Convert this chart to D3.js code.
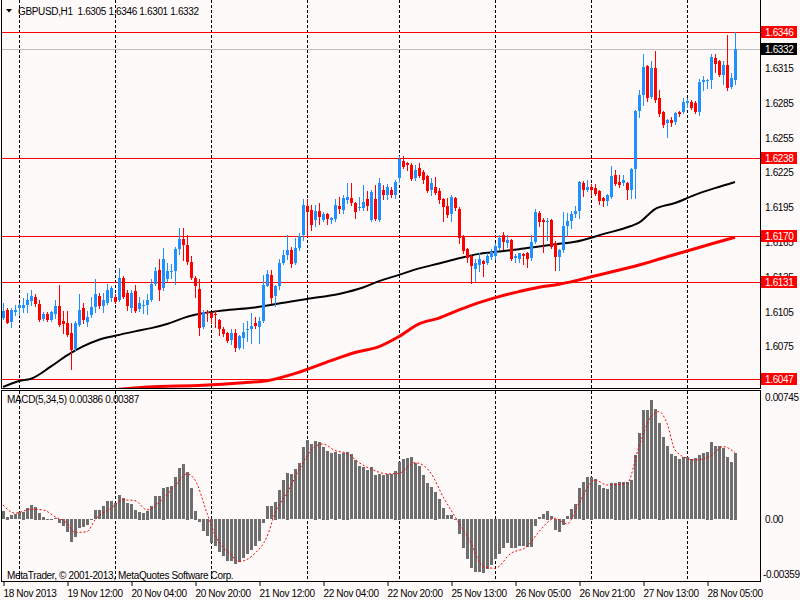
<!DOCTYPE html>
<html>
<head>
<meta charset="utf-8">
<script src="https://cdn.jsdelivr.net/npm/d3@7"></script>
<style>
  html, body { margin: 0; padding: 0; background: #fffafa; }
  svg { display: block; font-family: "Liberation Sans", Arial, sans-serif; }
  .tx { font-size: 10px; fill: #000; letter-spacing: -0.35px; }
</style>
</head>
<body>
<script>
// GBPUSD H1, 184 candles
var opens = [1.6100,1.6107,1.6097,1.6105,1.6108,1.6108,1.6111,1.6115,1.6118,1.6112,1.6099,1.6103,1.6098,1.6103,1.6110,1.6097,1.6095,1.6087,1.6073,1.6094,
1.6108,1.6097,1.6102,1.6109,1.6119,1.6110,1.6113,1.6117,1.6118,1.6115,1.6134,1.6121,1.6108,1.6123,1.6108,1.6110,1.6111,1.6115,1.6129,1.6141,
1.6126,1.6133,1.6139,1.6140,1.6159,1.6168,1.6163,1.6148,1.6134,1.6125,1.6092,1.6105,1.6104,1.6103,1.6098,1.6090,1.6087,1.6081,1.6087,1.6074,
1.6083,1.6089,1.6090,1.6095,1.6092,1.6097,1.6128,1.6137,1.6118,1.6127,1.6147,1.6154,1.6158,1.6147,1.6160,1.6171,1.6196,1.6193,1.6184,1.6192,
1.6184,1.6189,1.6184,1.6185,1.6196,1.6193,1.6201,1.6203,1.6199,1.6194,1.6195,1.6202,1.6184,1.6202,1.6184,1.6210,1.6206,1.6210,1.6206,1.6221,
1.6235,1.6233,1.6232,1.6220,1.6229,1.6226,1.6222,1.6210,1.6213,1.6209,1.6202,1.6196,1.6189,1.6203,1.6194,1.6170,1.6159,1.6153,1.6142,1.6146,
1.6149,1.6147,1.6153,1.6153,1.6160,1.6171,1.6164,1.6167,1.6151,1.6151,1.6155,1.6156,1.6151,1.6165,1.6190,1.6184,1.6182,1.6184,1.6164,1.6152,
1.6158,1.6179,1.6183,1.6189,1.6192,1.6216,1.6210,1.6213,1.6212,1.6209,1.6203,1.6201,1.6204,1.6223,1.6217,1.6216,1.6216,1.6210,1.6228,1.6278,
1.6292,1.6317,1.6290,1.6315,1.6289,1.6277,1.6267,1.6270,1.6268,1.6277,1.6277,1.6285,1.6286,1.6285,1.6277,1.6303,1.6304,1.6305,1.6324,1.6321,
1.6309,1.6318,1.6299,1.6305];
var highs = [1.6113,1.6108,1.6108,1.6111,1.6113,1.6117,1.6121,1.6124,1.6120,1.6115,1.6105,1.6105,1.6106,1.6115,1.6128,1.6106,1.6106,1.6095,1.6097,1.6120,
1.6113,1.6106,1.6118,1.6133,1.6121,1.6121,1.6129,1.6127,1.6120,1.6143,1.6136,1.6124,1.6124,1.6128,1.6118,1.6115,1.6120,1.6133,1.6144,1.6151,
1.6160,1.6147,1.6146,1.6161,1.6177,1.6177,1.6171,1.6153,1.6136,1.6133,1.6107,1.6107,1.6105,1.6107,1.6099,1.6092,1.6088,1.6090,1.6090,1.6085,
1.6095,1.6097,1.6104,1.6101,1.6101,1.6137,1.6141,1.6141,1.6128,1.6151,1.6158,1.6171,1.6161,1.6169,1.6173,1.6202,1.6202,1.6197,1.6197,1.6199,
1.6191,1.6190,1.6187,1.6202,1.6204,1.6206,1.6216,1.6216,1.6200,1.6204,1.6214,1.6209,1.6210,1.6214,1.6220,1.6214,1.6215,1.6213,1.6219,1.6239,
1.6239,1.6234,1.6233,1.6232,1.6233,1.6227,1.6223,1.6220,1.6221,1.6212,1.6203,1.6203,1.6206,1.6204,1.6195,1.6171,1.6160,1.6154,1.6151,1.6156,
1.6150,1.6156,1.6159,1.6164,1.6171,1.6174,1.6171,1.6168,1.6155,1.6156,1.6156,1.6157,1.6171,1.6194,1.6192,1.6186,1.6186,1.6185,1.6166,1.6159,
1.6191,1.6190,1.6192,1.6196,1.6218,1.6218,1.6219,1.6215,1.6215,1.6210,1.6204,1.6207,1.6231,1.6227,1.6223,1.6223,1.6217,1.6229,1.6279,1.6296,
1.6327,1.6318,1.6321,1.6330,1.6296,1.6278,1.6271,1.6273,1.6277,1.6278,1.6289,1.6289,1.6288,1.6287,1.6306,1.6308,1.6306,1.6327,1.6327,1.6322,
1.6321,1.6344,1.6311,1.6346];
var lows = [1.6099,1.6095,1.6092,1.6102,1.6102,1.6105,1.6105,1.6111,1.6110,1.6097,1.6098,1.6097,1.6097,1.6100,1.6093,1.6087,1.6084,1.6056,1.6071,1.6093,
1.6095,1.6093,1.6101,1.6105,1.6108,1.6105,1.6112,1.6114,1.6113,1.6114,1.6117,1.6107,1.6105,1.6105,1.6106,1.6104,1.6103,1.6114,1.6128,1.6115,
1.6124,1.6132,1.6134,1.6129,1.6155,1.6150,1.6146,1.6133,1.6118,1.6085,1.6091,1.6097,1.6095,1.6092,1.6085,1.6084,1.6079,1.6077,1.6071,1.6073,
1.6074,1.6080,1.6078,1.6091,1.6078,1.6096,1.6127,1.6113,1.6110,1.6125,1.6146,1.6151,1.6144,1.6146,1.6158,1.6167,1.6170,1.6176,1.6179,1.6181,
1.6183,1.6181,1.6182,1.6183,1.6190,1.6190,1.6199,1.6197,1.6186,1.6193,1.6193,1.6193,1.6183,1.6184,1.6183,1.6202,1.6202,1.6204,1.6203,1.6217,
1.6229,1.6227,1.6219,1.6219,1.6221,1.6216,1.6208,1.6206,1.6207,1.6199,1.6183,1.6187,1.6183,1.6193,1.6164,1.6156,1.6148,1.6130,1.6132,1.6140,
1.6136,1.6146,1.6151,1.6151,1.6159,1.6159,1.6161,1.6150,1.6148,1.6148,1.6146,1.6144,1.6150,1.6164,1.6179,1.6157,1.6167,1.6160,1.6141,1.6141,
1.6157,1.6170,1.6177,1.6187,1.6186,1.6205,1.6209,1.6206,1.6206,1.6198,1.6196,1.6197,1.6203,1.6214,1.6213,1.6214,1.6202,1.6203,1.6203,1.6273,
1.6283,1.6287,1.6289,1.6286,1.6274,1.6264,1.6256,1.6265,1.6267,1.6274,1.6276,1.6282,1.6280,1.6276,1.6275,1.6296,1.6298,1.6298,1.6312,1.6308,
1.6301,1.6296,1.6298,1.6301];
var closes = [1.6106,1.6096,1.6107,1.6107,1.6111,1.6111,1.6115,1.6119,1.6112,1.6098,1.6103,1.6098,1.6105,1.6110,1.6094,1.6094,1.6085,1.6072,1.6095,1.6107,
1.6098,1.6101,1.6109,1.6120,1.6110,1.6115,1.6124,1.6126,1.6114,1.6134,1.6118,1.6110,1.6121,1.6106,1.6113,1.6111,1.6115,1.6129,1.6140,1.6124,
1.6151,1.6140,1.6140,1.6159,1.6168,1.6163,1.6148,1.6134,1.6127,1.6091,1.6105,1.6104,1.6100,1.6102,1.6090,1.6086,1.6080,1.6087,1.6074,1.6084,
1.6088,1.6090,1.6093,1.6092,1.6097,1.6128,1.6138,1.6117,1.6127,1.6147,1.6154,1.6158,1.6146,1.6160,1.6170,1.6197,1.6191,1.6180,1.6192,1.6187,
1.6189,1.6185,1.6186,1.6197,1.6193,1.6203,1.6204,1.6199,1.6191,1.6195,1.6200,1.6196,1.6208,1.6185,1.6216,1.6206,1.6213,1.6206,1.6217,1.6237,
1.6230,1.6231,1.6220,1.6227,1.6222,1.6219,1.6209,1.6216,1.6208,1.6201,1.6195,1.6188,1.6204,1.6194,1.6169,1.6157,1.6151,1.6144,1.6147,1.6151,
1.6146,1.6153,1.6157,1.6162,1.6169,1.6165,1.6167,1.6151,1.6153,1.6156,1.6153,1.6151,1.6165,1.6191,1.6182,1.6182,1.6183,1.6161,1.6152,1.6158,
1.6179,1.6183,1.6189,1.6192,1.6217,1.6210,1.6213,1.6210,1.6207,1.6200,1.6200,1.6206,1.6222,1.6215,1.6214,1.6219,1.6210,1.6228,1.6278,1.6292,
1.6316,1.6289,1.6315,1.6287,1.6275,1.6266,1.6270,1.6267,1.6276,1.6275,1.6286,1.6287,1.6281,1.6277,1.6303,1.6305,1.6305,1.6325,1.6319,1.6309,
1.6318,1.6298,1.6307,1.6332];

// moving averages, read at some bars
var maBlackIdx = [0,4,7,12,16,20,24,28,33,37,41,45,48,55,63,72,76,84,90,94,99,104,109,114,119,124,129,134,139,143,150,157,159,163,168,173,178,183];
var maBlackVal = [1.60403,1.60455,1.60474,1.60580,1.60675,1.60752,1.60810,1.60844,1.60882,1.60910,1.60945,1.60996,1.61025,1.61062,1.61088,1.61140,1.61162,1.61205,1.61260,1.61315,
1.61369,1.61425,1.61467,1.61512,1.61550,1.61570,1.61590,1.61614,1.61637,1.61654,1.61720,1.61790,1.61820,1.61936,1.61988,1.62059,1.62117,1.62170];
var maRedIdx = [28,36,50,60,66,74,82,88,94,99,104,109,114,119,124,129,134,139,144,151,159,165,171,177,183];
var maRedVal = [1.60380,1.60403,1.60418,1.60440,1.60457,1.60530,1.60630,1.60700,1.60751,1.60838,1.60947,1.60996,1.61067,1.61130,1.61182,1.61225,1.61263,1.61288,1.61326,1.61385,
1.61454,1.61515,1.61575,1.61635,1.61693];

// MACD(5,34,5) main values
var macd = [0.00048,0.00015,0.00025,0.00029,0.00040,0.00044,0.00064,0.00081,0.00073,0.00039,0.00015,-0.00008,-0.00004,0.00006,-0.00023,-0.00043,-0.00077,-0.00136,-0.00105,-0.00052,
-0.00046,-0.00033,0.00002,0.00054,0.00054,0.00077,0.00106,0.00106,0.00093,0.00141,0.00122,0.00093,0.00089,0.00054,0.00044,0.00039,0.00050,0.00077,0.00135,0.00132,
0.00184,0.00186,0.00194,0.00244,0.00296,0.00321,0.00277,0.00180,0.00050,-0.00019,-0.00072,-0.00101,-0.00139,-0.00155,-0.00194,-0.00217,-0.00246,-0.00246,-0.00261,-0.00252,
-0.00227,-0.00201,-0.00182,-0.00159,-0.00130,-0.00023,0.00074,0.00074,0.00102,0.00170,0.00225,0.00271,0.00263,0.00290,0.00325,0.00418,0.00461,0.00437,0.00457,0.00447,
0.00422,0.00399,0.00383,0.00393,0.00379,0.00387,0.00393,0.00379,0.00344,0.00310,0.00302,0.00286,0.00302,0.00257,0.00263,0.00257,0.00263,0.00263,0.00282,0.00335,
0.00348,0.00354,0.00360,0.00325,0.00310,0.00257,0.00209,0.00186,0.00160,0.00116,0.00064,0.00025,0.00025,0.00002,-0.00085,-0.00168,-0.00232,-0.00285,-0.00310,-0.00310,
-0.00314,-0.00291,-0.00265,-0.00232,-0.00201,-0.00168,-0.00139,-0.00168,-0.00168,-0.00155,-0.00159,-0.00163,-0.00163,-0.00039,0.00012,0.00031,0.00050,0.00019,-0.00062,-0.00077,
-0.00033,0.00019,0.00058,0.00089,0.00180,0.00219,0.00244,0.00248,0.00232,0.00199,0.00180,0.00174,0.00209,0.00213,0.00219,0.00219,0.00219,0.00225,0.00373,0.00503,
0.00635,0.00635,0.00693,0.00639,0.00561,0.00480,0.00426,0.00379,0.00368,0.00348,0.00360,0.00360,0.00348,0.00354,0.00373,0.00383,0.00393,0.00451,0.00426,0.00426,
0.00413,0.00360,0.00335,0.00387];
var sigIdx = [0,3,7,10,13,16,18,21,23,27,30,33,36,39,43,46,48,51,53,57,59,63,66,68,71,74,78,80,83,86,89,93,96,99,103,107,110,113,117,120,
123,127,131,134,138,141,144,148,151,156,159,162,164,166,168,171,173,177,180,183];
var sigVal = [0.00083,0.00035,0.00058,0.00054,0.00015,-0.00023,-0.00077,-0.00072,-0.00004,0.00064,0.00112,0.00108,0.00054,0.00097,0.00194,0.00263,0.00228,0.00035,-0.00091,-0.00207,
-0.00246,-0.00198,-0.00101,0.00035,0.00151,0.00286,0.00422,0.00437,0.00399,0.00383,0.00329,0.00282,0.00263,0.00267,0.00329,0.00267,0.00131,0.00015,-0.00139,-0.00275,
-0.00285,-0.00198,-0.00159,-0.00072,0.00006,-0.00027,0.00093,0.00228,0.00199,0.00209,0.00422,0.00596,0.00625,0.00557,0.00403,0.00354,0.00344,0.00368,0.00422,0.00387];

// levels and labels
var hLevels = [1.6346, 1.6238, 1.6170, 1.6131, 1.6047];
var bidLevel = 1.6332;
var priceTicks = [1.6315, 1.6285, 1.6255, 1.6225, 1.6195, 1.6165, 1.6135, 1.6105, 1.6075, 1.6045];
var dayIdx = [4, 28, 52, 76, 99, 123, 147, 171];
var dateTickIdx = [0, 16, 32, 48, 64, 80, 96, 112, 128, 144, 160, 176];
var dateLabels = ["18 Nov 2013", "19 Nov 12:00", "20 Nov 04:00", "20 Nov 20:00", "21 Nov 12:00", "22 Nov 04:00",
  "22 Nov 20:00", "25 Nov 13:00", "26 Nov 05:00", "26 Nov 21:00", "27 Nov 13:00", "28 Nov 05:00"];
var macdMax = 0.00745, macdMin = -0.00359;

var BLUE = "#1e90ff", RED = "#ff0000";
var svg = d3.select("body").append("svg").attr("width", 800).attr("height", 600);
svg.append("rect").attr("width", 800).attr("height", 600).attr("fill", "#fffafa");

var x = d3.scaleLinear().domain([0, 183]).range([3, 735]);
var y = d3.scaleLinear().domain([1.60394, 1.63721]).range([388, 2]);
var ym = d3.scaleLinear().domain([macdMin, macdMax]).range([581, 391]);

var defs = svg.append("defs");
defs.append("clipPath").attr("id", "cpMain").append("rect").attr("x", 2).attr("y", 0).attr("width", 758).attr("height", 388);
defs.append("clipPath").attr("id", "cpMacd").append("rect").attr("x", 2).attr("y", 391).attr("width", 758).attr("height", 190);

var main = svg.append("g").attr("clip-path", "url(#cpMain)");
var sub = svg.append("g").attr("clip-path", "url(#cpMacd)");

// day separators
[[main, 0, 388], [sub, 391, 581]].forEach(function (p) {
  p[0].selectAll(null).data(dayIdx).enter().append("line")
    .attr("x1", function (d) { return x(d) + 0.5; }).attr("x2", function (d) { return x(d) + 0.5; })
    .attr("y1", p[1]).attr("y2", p[2])
    .attr("stroke", "#000").attr("stroke-dasharray", "3,2");
});

// horizontal levels
main.selectAll(null).data(hLevels).enter().append("line")
  .attr("x1", 2).attr("x2", 760)
  .attr("y1", function (d) { return Math.round(y(d)) + 0.5; }).attr("y2", function (d) { return Math.round(y(d)) + 0.5; })
  .attr("stroke", RED);
main.append("line").attr("x1", 2).attr("x2", 760)
  .attr("y1", Math.round(y(bidLevel)) + 0.5).attr("y2", Math.round(y(bidLevel)) + 0.5)
  .attr("stroke", "#c0c0c0");

// moving averages
var maLine = d3.line().curve(d3.curveMonotoneX)
  .x(function (d) { return x(d[0]); }).y(function (d) { return y(d[1]); });
main.append("path").attr("d", maLine(d3.zip(maRedIdx, maRedVal)))
  .attr("fill", "none").attr("stroke", RED).attr("stroke-width", 3);
main.append("path").attr("d", maLine(d3.zip(maBlackIdx, maBlackVal)))
  .attr("fill", "none").attr("stroke", "#000").attr("stroke-width", 2);

// candles
var bars = d3.range(opens.length);
var cg = main.append("g").attr("shape-rendering", "crispEdges");
cg.selectAll("line.wick").data(bars).enter().append("line").attr("class", "wick")
  .attr("x1", function (i) { return x(i) + 0.5; }).attr("x2", function (i) { return x(i) + 0.5; })
  .attr("y1", function (i) { return Math.round(y(highs[i])); })
  .attr("y2", function (i) { return Math.round(y(lows[i])) + 1; })
  .attr("stroke", function (i) { return closes[i] >= opens[i] ? BLUE : RED; });
cg.selectAll("rect.body").data(bars).enter().append("rect").attr("class", "body")
  .attr("x", function (i) { return x(i) - 1; }).attr("width", 3)
  .attr("y", function (i) { return Math.round(y(Math.max(opens[i], closes[i]))); })
  .attr("height", function (i) { return Math.max(1, Math.round(Math.abs(y(opens[i]) - y(closes[i])))); })
  .attr("fill", function (i) { return closes[i] >= opens[i] ? BLUE : RED; });

// MACD histogram + signal
sub.append("g").attr("shape-rendering", "crispEdges")
  .selectAll("rect").data(bars).enter().append("rect")
  .attr("x", function (i) { return x(i) - 1; }).attr("width", 3)
  .attr("y", function (i) { return Math.round(Math.min(ym(0), ym(macd[i]))); })
  .attr("height", function (i) { return Math.max(1, Math.round(Math.abs(ym(macd[i]) - ym(0)))); })
  .attr("fill", "#6e6e6e");
sub.append("path")
  .attr("d", d3.line().curve(d3.curveMonotoneX)
    .x(function (d) { return x(d[0]); }).y(function (d) { return ym(d[1]); })(d3.zip(sigIdx, sigVal)))
  .attr("fill", "none").attr("stroke", RED).attr("stroke-width", 1).attr("stroke-dasharray", "2,2");

// frames
svg.append("path").attr("d", "M1.5,0V388.5H760.5V0").attr("fill", "none").attr("stroke", "#000").attr("shape-rendering", "crispEdges");
svg.append("rect").attr("x", 1.5).attr("y", 390.5).attr("width", 759).attr("height", 191)
  .attr("fill", "none").attr("stroke", "#000").attr("shape-rendering", "crispEdges");

// price axis
var pAxis = svg.append("g").attr("transform", "translate(760,0)")
  .call(d3.axisRight(y).tickValues(priceTicks).tickFormat(d3.format(".4f")).tickSize(0).tickPadding(5));
pAxis.select(".domain").remove();
pAxis.selectAll("text").attr("class", "tx").attr("font-size", null).attr("font-family", null);

function tag(v, bg) {
  var yy = Math.round(y(v));
  svg.append("rect").attr("x", 761).attr("y", yy - 6).attr("width", 36).attr("height", 12).attr("fill", bg);
  svg.append("text").attr("class", "tx").attr("x", 765).attr("y", yy + 4).style("fill", "#fff").text(d3.format(".4f")(v));
}
hLevels.forEach(function (v) { tag(v, RED); });
tag(bidLevel, "#000");

// MACD axis
var mLabels = [[macdMax, ym(macdMax) + 10, "0.00745"], [0, ym(0) + 4, "0.00"], [macdMin, ym(macdMin) - 3, "-0.00359"]];
svg.selectAll(null).data(mLabels).enter().append("text").attr("class", "tx")
  .attr("x", function (d) { return d[0] < 0 ? 763 : 765; }).attr("y", function (d) { return d[1]; })
  .text(function (d) { return d[2]; });

// time axis
var tAxis = svg.append("g").attr("transform", "translate(0,582)")
  .call(d3.axisBottom(x).tickValues(dateTickIdx).tickSize(4).tickPadding(2)
    .tickFormat(function (d, i) { return dateLabels[i]; }));
tAxis.select(".domain").remove();
tAxis.selectAll(".tick line").attr("transform", "translate(0.5,0)");
tAxis.selectAll("text").attr("class", "tx").attr("font-size", null).attr("font-family", null)
  .attr("text-anchor", "start").attr("x", 0).attr("dy", "0.85em");

// titles
svg.append("path").attr("d", "M6,9H12L9,12.5Z").attr("fill", "#000");
svg.append("text").attr("class", "tx").attr("x", 18).attr("y", 15).text("GBPUSD,H1  1.6305 1.6346 1.6301 1.6332").attr("xml:space", "preserve").style("white-space", "pre");
svg.append("text").attr("class", "tx").attr("x", 7).attr("y", 403).text("MACD(5,34,5) 0.00386 0.00387");
svg.append("text").attr("class", "tx").attr("x", 7).attr("y", 579).text("MetaTrader, \u00a9 2001-2013, MetaQuotes Software Corp.");
</script>
</body>
</html>
